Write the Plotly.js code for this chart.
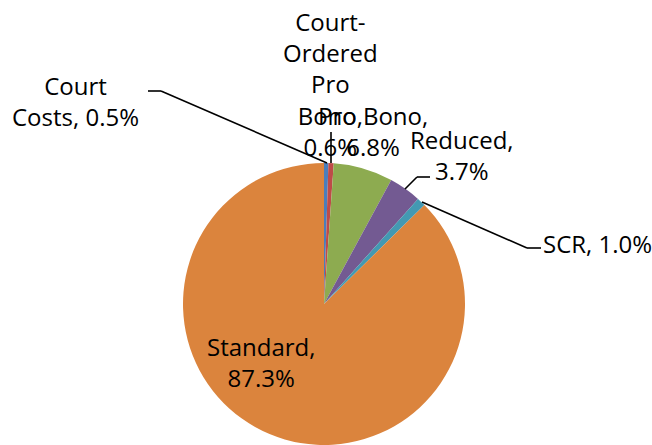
<!DOCTYPE html>
<html>
<head>
<meta charset="utf-8">
<script src="https://cdn.plot.ly/plotly-3.0.1.min.js"></script>
<style>html,body{margin:0;padding:0;background:#fff;}#chart{width:652px;height:445px;}</style>
</head>
<body>
<div id="chart"></div>
<script>
// ---- data ----
const categories = ['Court Costs', 'Court-Ordered Pro Bono', 'Pro Bono', 'Reduced', 'SCR', 'Standard'];
const shares = [0.5, 0.6, 6.8, 3.7, 1.0, 87.3];
const colors = ['#4A7EBB', '#BE4B48', '#8DAB50', '#735A92', '#4399B2', '#DB843D'];

// ---- layout helpers ----
const W = 652, H = 445;
const px = x => x / W;
const py = y => 1 - y / H;
const FONT = 'Open Sans, Noto Sans, sans-serif';

// label placement (pixel centres) and word grouping per line
const labelPos = [
  {x: 75,  y: 101, lines: [1, 2]},
  {x: 331, y: 84,  lines: [1, 1, 1, 1, 1]},
  {x: 373, y: 131, lines: [2, 1]},
  {x: 462, y: 155, lines: [1, 1]},
  {x: 597, y: 243, lines: [2]},
  {x: 261, y: 362, lines: [1, 1]}
];
// leader lines (pixel polylines)
const leaders = [
  [[148, 91], [161, 91], [327, 163]],
  [[331, 132], [331, 163]],
  null,
  [[430, 177], [417, 177], [405, 189]],
  [[541, 248], [527, 248], [422, 202]],
  null
];

function wrapLabel(i) {
  const full = categories[i] + ', ' + shares[i].toFixed(1) + '%';
  const tokens = full.split(/(?<=-)|\s+/).filter(t => t.length);
  const out = [];
  let k = 0;
  labelPos[i].lines.forEach(n => {
    let line = '';
    for (let j = 0; j < n; j++) {
      const t = tokens[k++];
      if (line && !line.endsWith('-')) line += ' ';
      line += t;
    }
    out.push(line);
  });
  return out.join('<br>');
}

const annotations = categories.map((c, i) => ({
  xref: 'paper', yref: 'paper',
  x: px(labelPos[i].x), y: py(labelPos[i].y),
  xanchor: 'center', yanchor: 'middle',
  text: wrapLabel(i), showarrow: false,
  font: {family: FONT, size: 24, color: '#000'},
  align: 'center'
}));

const shapes = [];
leaders.forEach(pts => {
  if (!pts) return;
  for (let j = 0; j < pts.length - 1; j++) {
    shapes.push({
      type: 'line', xref: 'paper', yref: 'paper', layer: 'above',
      x0: px(pts[j][0]), y0: py(pts[j][1]), x1: px(pts[j + 1][0]), y1: py(pts[j + 1][1]),
      line: {color: '#000', width: 1.6}
    });
  }
});

const trace = {
  type: 'pie',
  labels: categories,
  values: shares,
  sort: false,
  direction: 'clockwise',
  rotation: 0,
  textinfo: 'none',
  hoverinfo: 'label+percent',
  marker: {colors: colors, line: {width: 0}},
  domain: {x: [px(182), px(466)], y: [0, py(163)]},
  showlegend: false
};

const layout = {
  width: W, height: H,
  margin: {l: 0, r: 0, t: 0, b: 0},
  paper_bgcolor: '#fff', plot_bgcolor: '#fff',
  showlegend: false,
  annotations: annotations,
  shapes: shapes,
  font: {family: FONT}
};

Plotly.newPlot('chart', [trace], layout, {displayModeBar: false, staticPlot: true});
</script>
</body>
</html>
